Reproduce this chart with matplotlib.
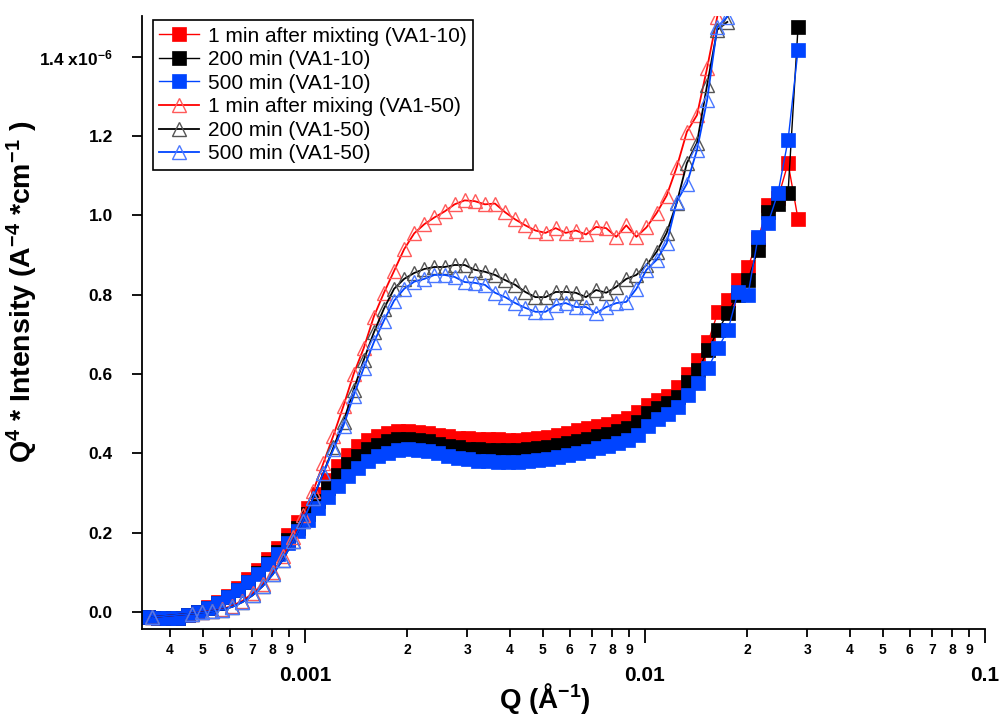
import numpy as np
import matplotlib
matplotlib.use("Agg")
import matplotlib.pyplot as plt
from matplotlib.ticker import LogLocator, FuncFormatter, MultipleLocator, NullLocator

plt.rcParams["font.family"] = ["Liberation Sans", "DejaVu Sans"]
plt.rcParams["mathtext.fontset"] = "custom"
plt.rcParams["mathtext.rm"] = "Liberation Sans:bold"
plt.rcParams["mathtext.bf"] = "Liberation Sans:bold"
plt.rcParams["mathtext.it"] = "Liberation Sans:bold:italic"

# Q grid (1/A) for the VA1-10 runs
q_va10 = [
    0.0003453, 0.0003695, 0.0003954, 0.0004231, 0.0004528, 0.0004845, 0.0005185, 0.0005548,
    0.0005937, 0.0006353, 0.0006798, 0.0007275, 0.0007785, 0.0008330, 0.0008914, 0.0009538,
    0.001021, 0.001092, 0.001169, 0.001251, 0.001338, 0.001432, 0.001533, 0.001640, 0.001755, 0.001878,
    0.002009, 0.002150, 0.002301, 0.002462, 0.002635, 0.002820, 0.003017, 0.003229, 0.003455, 0.003697,
    0.003956, 0.004233, 0.004530, 0.004848, 0.005187, 0.005551, 0.005940, 0.006356, 0.006802, 0.007279,
    0.007789, 0.008335, 0.008919, 0.009544, 0.01021, 0.01093, 0.01169, 0.01251, 0.01339, 0.01433,
    0.01533, 0.01640, 0.01755, 0.01878, 0.02009, 0.02150, 0.02301, 0.02462, 0.02635, 0.02819,
]

# Q^4 * I in units of 1e-6
va10_1min = [
    -0.013, -0.016, -0.016, -0.014, -0.007, 0.001, 0.012, 0.025, 0.041, 0.060, 0.082, 0.106, 0.133, 0.162, 0.194, 0.228,
    0.263, 0.298, 0.333, 0.368, 0.396, 0.418, 0.434, 0.445, 0.452, 0.456,
    0.457, 0.455, 0.451, 0.447, 0.443, 0.440, 0.438, 0.436, 0.435, 0.435,
    0.434, 0.434, 0.435, 0.438, 0.442, 0.447, 0.452, 0.458, 0.464, 0.470,
    0.475, 0.481, 0.490, 0.505, 0.522, 0.535, 0.545, 0.567, 0.600, 0.636,
    0.681, 0.757, 0.787, 0.837, 0.870, 0.940, 1.026, 1.044, 1.132, 0.991,
]
va10_200min = [
    -0.013, -0.016, -0.016, -0.015, -0.008, 0.000, 0.010, 0.022, 0.037, 0.055, 0.076, 0.099, 0.124, 0.152, 0.182, 0.213,
    0.246, 0.280, 0.313, 0.345, 0.372, 0.393, 0.410, 0.422, 0.430, 0.435,
    0.436, 0.434, 0.430, 0.424, 0.419, 0.415, 0.412, 0.410, 0.409, 0.409,
    0.409, 0.409, 0.410, 0.413, 0.416, 0.420, 0.425, 0.431, 0.437, 0.443,
    0.449, 0.456, 0.465, 0.480, 0.502, 0.514, 0.527, 0.542, 0.580, 0.610,
    0.661, 0.711, 0.754, 0.800, 0.837, 0.913, 1.009, 1.030, 1.057, 1.475,
]
va10_500min = [
    -0.013, -0.016, -0.016, -0.015, -0.008, 0.000, 0.010, 0.022, 0.037, 0.055, 0.075, 0.097, 0.121, 0.147, 0.174, 0.203,
    0.232, 0.262, 0.290, 0.318, 0.342, 0.363, 0.380, 0.393, 0.402, 0.408,
    0.410, 0.409, 0.405, 0.400, 0.394, 0.389, 0.385, 0.382, 0.380, 0.379,
    0.379, 0.379, 0.380, 0.383, 0.387, 0.391, 0.396, 0.401, 0.407, 0.413,
    0.419, 0.426, 0.434, 0.447, 0.468, 0.487, 0.500, 0.517, 0.547, 0.578,
    0.615, 0.666, 0.711, 0.807, 0.800, 0.945, 0.981, 1.057, 1.190, 1.417,
]

# Q grid (1/A) for the VA1-50 runs
q_va50 = [
    0.0003548,
    0.0004651, 0.0004981, 0.0005333, 0.0005711, 0.0006115, 0.0006548, 0.0007012, 0.0007508, 0.0008040, 0.0008610,
    0.0009219, 0.0009872, 0.001057, 0.001132, 0.001212, 0.001298, 0.001390, 0.001488, 0.001594, 0.001707,
    0.001828, 0.001957, 0.002096, 0.002244, 0.002403, 0.002573, 0.002754, 0.002949, 0.003158, 0.003382,
    0.003621, 0.003878, 0.004152, 0.004446, 0.004761, 0.005099, 0.005460, 0.005846, 0.006260, 0.006704,
    0.007179, 0.007687, 0.008232, 0.008811, 0.009434, 0.01010, 0.01082, 0.01158, 0.01240, 0.01328,
    0.01422, 0.01523, 0.01631, 0.01746,
]
va50_1min = [
    -0.013,
    -0.004, 0.000, 0.003, 0.007, 0.016, 0.028, 0.047, 0.070, 0.100, 0.140,
    0.190, 0.245, 0.305, 0.375, 0.445, 0.520, 0.600, 0.665, 0.745, 0.805,
    0.860, 0.915, 0.955, 0.978, 0.995, 1.010, 1.028, 1.038, 1.036, 1.028,
    1.030, 1.008, 0.990, 0.975, 0.962, 0.956, 0.968, 0.956, 0.962, 0.952,
    0.971, 0.968, 0.946, 0.975, 0.946, 0.970, 1.006, 1.050, 1.122, 1.211,
    1.253, 1.372, 1.501,
]
va50_200min = [
    -0.013,
    -0.004, -0.001, 0.002, 0.006, 0.013, 0.025, 0.042, 0.065, 0.095, 0.132,
    0.178, 0.230, 0.288, 0.350, 0.415, 0.480, 0.560, 0.635, 0.705, 0.765,
    0.815, 0.840, 0.855, 0.865, 0.870, 0.870, 0.875, 0.875, 0.863, 0.858,
    0.850, 0.837, 0.825, 0.807, 0.794, 0.794, 0.807, 0.807, 0.805, 0.794,
    0.812, 0.805, 0.820, 0.840, 0.850, 0.875, 0.908, 0.956, 1.032, 1.132,
    1.183, 1.329, 1.468, 1.488,
]
va50_500min = [
    -0.013,
    -0.004, -0.001, 0.002, 0.006, 0.013, 0.025, 0.042, 0.065, 0.095, 0.132,
    0.178, 0.230, 0.288, 0.350, 0.410, 0.470, 0.545, 0.615, 0.680, 0.735,
    0.785, 0.815, 0.833, 0.840, 0.850, 0.850, 0.845, 0.832, 0.830, 0.825,
    0.805, 0.794, 0.779, 0.767, 0.757, 0.757, 0.774, 0.779, 0.769, 0.769,
    0.754, 0.769, 0.779, 0.782, 0.815, 0.863, 0.888, 0.930, 1.035, 1.080,
    1.165, 1.291, 1.475, 1.501,
]

labels = [
    "1 min after mixting (VA1-10)",
    "200 min (VA1-10)",
    "500 min (VA1-10)",
    "1 min after mixing (VA1-50)",
    "200 min (VA1-50)",
    "500 min (VA1-50)",
]

RED = "#ff0000"
BLACK = "#000000"
BLUE = "#0044ff"

fig = plt.figure(figsize=(10, 7.2), dpi=100)
ax = fig.add_axes([0.142, 0.1264, 0.843, 0.8514])

scale = 1e-6
square_sets = [(va10_1min, RED), (va10_200min, BLACK), (va10_500min, BLUE)]
for (vals, col), lab in zip(square_sets, labels[:3]):
    ax.plot(q_va10[:len(vals)], np.array(vals) * scale, color=col, lw=1.0,
            marker="s", ms=10.3, mfc=col, mec=col, mew=0.5, label=lab)

tri_sets = [(va50_1min, RED, "#ff5a5a"), (va50_200min, BLACK, "#555555"),
            (va50_500min, BLUE, "#4a78ff")]
for (vals, col, edge), lab in zip(tri_sets, labels[3:]):
    ax.plot(q_va50[:len(vals)], np.array(vals) * scale, color=col, lw=1.3,
            marker="^", ms=10, mfc="none", mec=edge, mew=1.0, label=lab)

ax.set_xscale("log")
ax.set_xlim(3.316e-4, 0.1)
ax.set_ylim(-0.0429e-6, 1.503e-6)

for side in ("top", "right"):
    ax.spines[side].set_visible(False)
for side in ("left", "bottom"):
    ax.spines[side].set_linewidth(1.3)

ax.xaxis.set_major_locator(LogLocator(base=10, subs=(1.0,)))
ax.xaxis.set_minor_locator(LogLocator(base=10, subs=tuple(range(2, 10))))
ax.xaxis.set_major_formatter(FuncFormatter(lambda v, p: f"{v:g}"))
ax.xaxis.set_minor_formatter(FuncFormatter(
    lambda v, p: str(int(round(v / 10 ** np.floor(np.log10(v) + 1e-9))))))
ax.tick_params(axis="x", which="major", direction="out", length=10, width=1.3,
               pad=17, labelsize=15)
ax.tick_params(axis="x", which="minor", direction="out", length=6, width=1.3,
               pad=4, labelsize=10)
for t in ax.get_xticklabels(which="both"):
    t.set_fontweight("bold")

ax.yaxis.set_major_locator(MultipleLocator(0.2e-6))
ax.yaxis.set_minor_locator(NullLocator())


def ylabel_fmt(v, pos):
    val = v / scale
    if abs(val - 1.4) < 1e-6:
        return r"1.4 x10$^{-6}$"
    return f"{val:.1f}"


ax.yaxis.set_major_formatter(FuncFormatter(ylabel_fmt))
ax.tick_params(axis="y", direction="out", length=7, width=1.3, pad=14, labelsize=12.5)
for t in ax.get_yticklabels():
    t.set_fontweight("bold")

ax.set_ylabel(r"Q$^{4}$ * Intensity (A$^{-4}$ *cm$^{-1}$ )", fontsize=20.5,
              fontweight="bold")
ax.yaxis.set_label_coords(-0.121, 0.55)
ax.set_xlabel(r"Q ($\mathregular{\AA}^{-1}$)", fontsize=20, fontweight="bold")
ax.xaxis.set_label_coords(0.478, -0.085)

leg = ax.legend(loc="upper left", bbox_to_anchor=(0.013, 0.993), borderaxespad=0,
                fontsize=15, frameon=True, fancybox=False, framealpha=1,
                edgecolor="black", handlelength=1.9, labelspacing=0.22,
                borderpad=0.3, handletextpad=0.45, markerscale=1.0)
leg.get_frame().set_linewidth(1.2)

fig.savefig("out.png", dpi=100)
